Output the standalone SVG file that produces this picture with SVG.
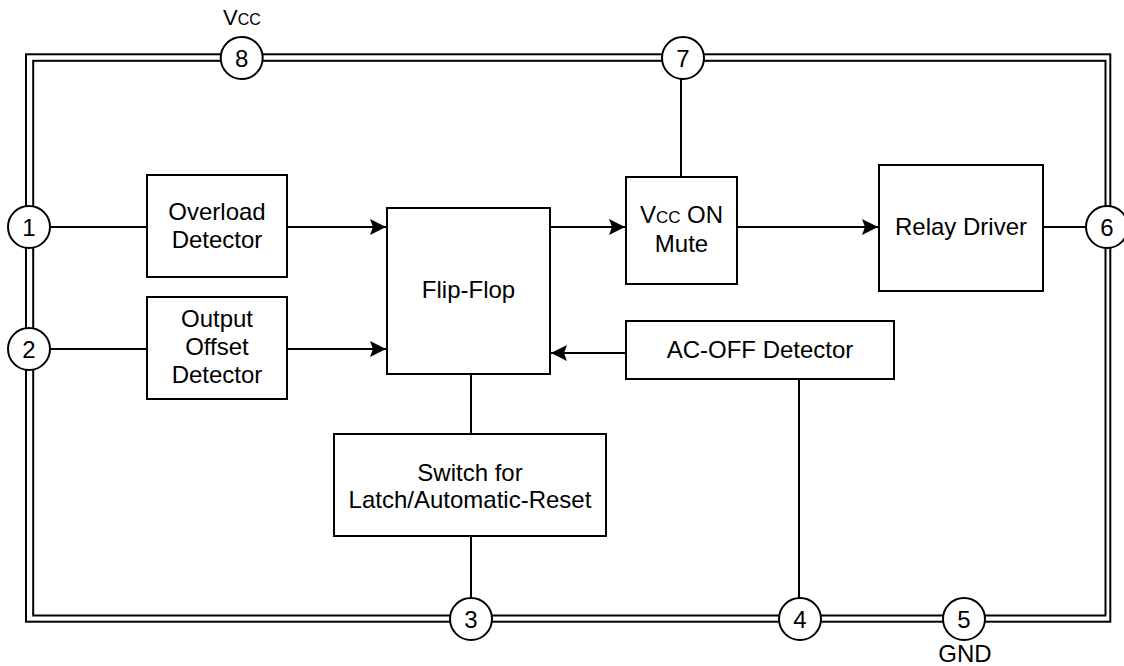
<svg xmlns="http://www.w3.org/2000/svg" width="1124" height="666" viewBox="0 0 1124 666">
<style>
.b{fill:#fff;stroke:#000;stroke-width:2}
.t{font-family:"Liberation Sans",Arial,sans-serif;font-size:24px;fill:#000;text-anchor:middle}
.s{font-size:17px}
.c{fill:none;stroke:#000;stroke-width:2}
.a{marker-end:url(#ah)}
.p{fill:#fff;stroke:#000;stroke-width:2}
.f{fill:none;stroke:#000;stroke-width:2}
</style>
<defs>
<marker id="ah" markerUnits="userSpaceOnUse" markerWidth="17" markerHeight="16" refX="16" refY="8" orient="auto">
<path d="M0,0 L16,8 L0,16 L3,8 z" fill="#000"/>
</marker>
</defs>
<g id="frame">
<rect class="f" x="26" y="54.3" width="1084.3" height="567.4"/>
<rect class="f" x="33.2" y="60.8" width="1072.3" height="554.7"/>
</g>
<g id="connectors">
<path class="c" d="M50,227 H147"/>
<path class="c a" d="M287,227 H386"/>
<path class="c" d="M50,349 H147"/>
<path class="c a" d="M287,349 H386"/>
<path class="c a" d="M550,227 H625"/>
<path class="c a" d="M737,227 H878"/>
<path class="c" d="M1043,227 H1086"/>
<path class="c" d="M681,177 V79"/>
<path class="c a" d="M626,353 H551"/>
<path class="c" d="M471,374 V434"/>
<path class="c" d="M471,536 V598"/>
<path class="c" d="M799,379 V598"/>
</g>
<g id="overload">
<rect class="b" x="147" y="175" width="140" height="102"/>
<text class="t" x="217" y="220">Overload</text>
<text class="t" x="217" y="248">Detector</text>
</g>
<g id="offset">
<rect class="b" x="147" y="297" width="140" height="102"/>
<text class="t" x="217" y="327">Output</text>
<text class="t" x="217" y="355">Offset</text>
<text class="t" x="217" y="383">Detector</text>
</g>
<g id="flipflop">
<rect class="b" x="387" y="208" width="163" height="166"/>
<text class="t" x="468.5" y="298">Flip-Flop</text>
</g>
<g id="mute">
<rect class="b" x="626" y="177" width="111" height="107"/>
<text class="t" x="681.5" y="223">V<tspan class="s">CC</tspan> ON</text>
<text class="t" x="681.5" y="252">Mute</text>
</g>
<g id="relay">
<rect class="b" x="879" y="165" width="164" height="126"/>
<text class="t" x="961" y="235">Relay Driver</text>
</g>
<g id="acoff">
<rect class="b" x="626" y="321" width="268" height="58"/>
<text class="t" x="760" y="358">AC-OFF Detector</text>
</g>
<g id="switch">
<rect class="b" x="334" y="434" width="272" height="102"/>
<text class="t" x="470" y="481">Switch for</text>
<text class="t" x="470" y="508">Latch/Automatic-Reset</text>
</g>
<g id="pin8">
<circle class="p" cx="241.7" cy="58" r="21"/>
<text class="t" x="241.7" y="66.5">8</text>
<text class="t" x="242" y="25" style="font-size:22px">V<tspan style="font-size:16px">CC</tspan></text>
</g>
<g id="pin7">
<circle class="p" cx="683" cy="58" r="21"/>
<text class="t" x="683" y="66.5">7</text>
</g>
<g id="pin1">
<circle class="p" cx="29" cy="227" r="21"/>
<text class="t" x="29" y="235.5">1</text>
</g>
<g id="pin2">
<circle class="p" cx="29" cy="349" r="21"/>
<text class="t" x="29" y="357.5">2</text>
</g>
<g id="pin6">
<circle class="p" cx="1107" cy="227" r="21"/>
<text class="t" x="1107" y="235.5">6</text>
</g>
<g id="pin3">
<circle class="p" cx="471" cy="619" r="21"/>
<text class="t" x="471" y="627.5">3</text>
</g>
<g id="pin4">
<circle class="p" cx="800" cy="619" r="21"/>
<text class="t" x="800" y="627.5">4</text>
</g>
<g id="pin5">
<circle class="p" cx="964" cy="619" r="21"/>
<text class="t" x="964" y="627.5">5</text>
<text class="t" x="965" y="662">GND</text>
</g>
</svg>
